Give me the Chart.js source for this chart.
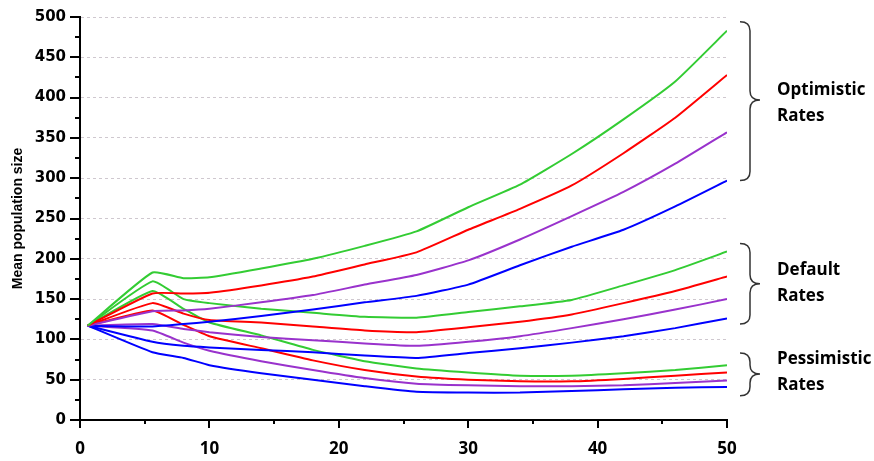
<!DOCTYPE html>
<html>
<head>
<meta charset="utf-8">
<script src="https://cdn.jsdelivr.net/npm/chart.js@4.4.1/dist/chart.umd.min.js"></script>
<style>
    html, body { margin: 0; padding: 0; background: #fff; }
    #wrap { width: 874px; height: 461px; position: relative; }
</style>
</head>
<body>
<div id="wrap"><canvas id="chart"></canvas></div>
<script>
// time steps (years)
const years = [0.6, 5.6, 8, 10, 14, 18, 22, 26, 30, 34, 38, 42, 46, 50];

// optimistic rates
const optGreen  = [117, 183, 176, 177, 188, 200, 216, 234, 264, 292, 330, 373, 420, 483];
const optRed    = [117, 157, 157, 158, 167, 178, 193, 208, 236, 262, 291, 331, 375, 428];
const optPurple = [117, 135, 136, 138, 146, 155, 168, 180, 198, 224, 253, 283, 318, 357];
const optBlue   = [117, 116, 119, 122, 129, 137, 146, 154, 168, 192, 215, 236, 265, 297];

// default rates
const defGreen  = [117, 172, 150, 145, 138, 133, 128, 127, 134, 141, 149, 167, 186, 209];
const defRed    = [117, 145, 132, 124, 121, 116, 111, 109, 115, 122, 131, 145, 160, 178];
const defPurple = [117, 119, 113, 109, 103, 99, 95, 92, 97, 104, 114, 125, 137, 150];
const defBlue   = [117, 97, 92, 90, 87, 84, 80, 77, 83, 89, 96, 104, 114, 126];

// pessimistic rates
const pesGreen  = [117, 160, 138, 121, 105, 87, 73, 64, 59, 55, 55, 58, 62, 68];
const pesRed    = [117, 136, 118, 104, 89, 74, 62, 54, 50, 48, 48, 51, 55, 59];
const pesPurple = [117, 111, 96, 86, 73, 62, 52, 45, 43, 42, 42, 43, 46, 49];
const pesBlue   = [117, 84, 77, 68, 58, 50, 42, 35, 34, 34, 36, 38, 40, 41];

const yTicks = [0, 50, 100, 150, 200, 250, 300, 350, 400, 450, 500];
const xTicks = [0, 10, 20, 30, 40, 50];

// brace groups: y range covered, tip, label centre (in data units)
const groups = [
    { lines: ['Optimistic', 'Rates'], top: 494, bottom: 297, tip: 397, label: 387 },
    { lines: ['Default', 'Rates'], top: 219, bottom: 119, tip: 169, label: 164 },
    { lines: ['Pessimistic', 'Rates'], top: 83, bottom: 30, tip: 57, label: 53 }
];

const GREEN = '#33cc33', RED = '#ff0000', PURPLE = '#9932cc', BLUE = '#0000ff';

const series = [
    [optGreen, GREEN], [optRed, RED], [optPurple, PURPLE], [optBlue, BLUE],
    [defGreen, GREEN], [defRed, RED], [defPurple, PURPLE], [defBlue, BLUE],
    [pesGreen, GREEN], [pesRed, RED], [pesPurple, PURPLE], [pesBlue, BLUE]
];

const datasets = series.map(([vals, color]) => ({
    data: vals.map((v, i) => ({ x: years[i], y: v })),
    borderColor: color,
    borderWidth: 2,
    pointRadius: 0,
    tension: 0.15,
    fill: false
}));

function drawBrace(ctx, x0, xv, xt, yTop, yMid, yBot) {
    const r = 9;
    ctx.beginPath();
    ctx.moveTo(x0, yTop);
    ctx.quadraticCurveTo(xv, yTop, xv, yTop + r);
    ctx.lineTo(xv, yMid - r);
    ctx.quadraticCurveTo(xv, yMid, xt, yMid);
    ctx.quadraticCurveTo(xv, yMid, xv, yMid + r);
    ctx.lineTo(xv, yBot - r);
    ctx.quadraticCurveTo(xv, yBot, x0, yBot);
    ctx.stroke();
}

// tick marks (major + minor) and the right-hand braces
const decorPlugin = {
    id: 'decor',
    afterDraw(chart) {
        const { ctx, chartArea, scales: { x, y } } = chart;
        ctx.save();
        ctx.strokeStyle = '#000';
        ctx.lineWidth = 2;
        ctx.beginPath();
        for (let v = 0; v <= 500; v += 25) {
            const py = Math.round(y.getPixelForValue(v));
            const len = v % 50 === 0 ? 10 : 5;
            ctx.moveTo(chartArea.left - len, py);
            ctx.lineTo(chartArea.left, py);
        }
        for (let v = 0; v <= 50; v += 5) {
            const px = Math.round(x.getPixelForValue(v));
            const len = v % 10 === 0 ? 8 : 4;
            ctx.moveTo(px, chartArea.bottom);
            ctx.lineTo(px, chartArea.bottom + len);
        }
        ctx.stroke();

        const r = chartArea.right;
        ctx.strokeStyle = '#333';
        ctx.lineWidth = 1.5;
        ctx.fillStyle = '#000';
        ctx.font = 'bold 17px "Open Sans"';
        ctx.textBaseline = 'alphabetic';
        groups.forEach(g => {
            drawBrace(ctx, r + 13, r + 23, r + 33,
                y.getPixelForValue(g.top), y.getPixelForValue(g.tip), y.getPixelForValue(g.bottom));
            const mid = y.getPixelForValue(g.label);
            ctx.fillText(g.lines[0], r + 50, mid - 13);
            ctx.fillText(g.lines[1], r + 50, mid + 13);
        });
        ctx.restore();
    }
};

new Chart(document.getElementById('chart'), {
    type: 'line',
    data: { datasets },
    plugins: [decorPlugin],
    options: {
        responsive: true,
        maintainAspectRatio: false,
        animation: false,
        devicePixelRatio: 1,
        layout: { padding: { top: 17, right: 147, left: 0, bottom: 0 } },
        plugins: { legend: { display: false }, tooltip: { enabled: false } },
        scales: {
            x: {
                type: 'linear',
                min: 0,
                max: 50,
                afterBuildTicks: s => { s.ticks = xTicks.map(v => ({ value: v })); },
                afterFit: s => { s.height = 41; },
                grid: { display: false, drawTicks: false },
                border: { display: true, color: '#000', width: 2 },
                ticks: {
                    padding: 19,
                    color: '#000',
                    font: { family: '"Open Sans"', size: 17, weight: 'bold' }
                }
            },
            y: {
                min: 0,
                max: 500,
                afterBuildTicks: s => { s.ticks = yTicks.map(v => ({ value: v })); },
                afterFit: s => {
                    s.width = 80;
                    s.paddingTop = 9;
                    s.paddingBottom = 9;
                },
                grid: {
                    drawTicks: false,
                    color: ctx => ctx.tick && ctx.tick.value === 0 ? 'rgba(0,0,0,0)' : '#cfc8cf',
                    lineWidth: 1
                },
                border: { display: true, color: '#000', width: 2, dash: [3, 3] },
                ticks: {
                    padding: 14,
                    color: '#000',
                    font: { family: '"DejaVu Sans"', size: 15, weight: 'bold' }
                },
                title: {
                    display: true,
                    text: 'Mean population size',
                    color: '#000',
                    padding: { top: 10, bottom: 0 },
                    font: { family: '"Liberation Sans"', size: 14, weight: 'bold' }
                }
            }
        }
    }
});
</script>
</body>
</html>
